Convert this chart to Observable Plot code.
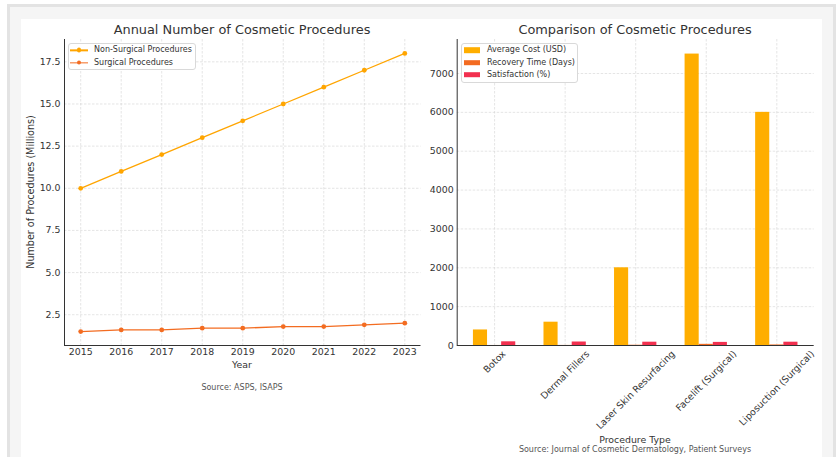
<!DOCTYPE html>
<html><head><meta charset="utf-8">
<script src="https://cdn.jsdelivr.net/npm/d3@7"></script>
<script src="https://cdn.jsdelivr.net/npm/@observablehq/plot@0.6"></script>
<style>
body{margin:0;background:#fff;font-family:"DejaVu Sans",sans-serif;}
#page{position:relative;width:836px;height:457px;overflow:hidden;}
#frame{position:absolute;left:7px;top:4px;width:823px;height:470px;border:3px solid #e3e3e3;border-bottom:none;background:#f5f5f5;}
#inner{position:absolute;left:21px;top:19px;width:801px;height:450px;background:#fff;}
.t{position:absolute;transform:translate(-50%,-50%);white-space:nowrap;color:#333;line-height:1;}
.plot{position:absolute;}
.legend{position:absolute;border:1px solid #d9d9d9;border-radius:3px;background:#fff;box-sizing:border-box;}
.li{position:absolute;font-size:8px;color:#333;line-height:1;white-space:nowrap;transform:translateY(-50%);}
.sw{position:absolute;transform:translateY(-50%);}
</style></head>
<body><div id="page"><div id="frame"></div><div id="inner"></div></div>
<script>
// ---- data ----
const years = [2015, 2016, 2017, 2018, 2019, 2020, 2021, 2022, 2023];
const nonSurgical = [10, 11, 12, 13, 14, 15, 16, 17, 18];
const surgical = [1.5, 1.6, 1.6, 1.7, 1.7, 1.8, 1.8, 1.9, 2.0];
const lineSeries = ["Non-Surgical Procedures", "Surgical Procedures"];
const lineColors = ["#ffa500", "#f36c21"];
const yTicksLeft = [2.5, 5, 7.5, 10, 12.5, 15, 17.5];

const procedures = ["Botox", "Dermal Fillers", "Laser Skin Resurfacing", "Facelift (Surgical)", "Liposuction (Surgical)"];
const avgCost = [400, 600, 2000, 7500, 6000];
const recoveryDays = [1, 2, 7, 30, 14];
const satisfaction = [95, 90, 85, 80, 85];
const barSeries = ["Average Cost (USD)", "Recovery Time (Days)", "Satisfaction (%)"];
const barColors = ["#ffae00", "#f36b21", "#f2304f"];
const yTicksRight = [0, 1000, 2000, 3000, 4000, 5000, 6000, 7000];

const page = document.getElementById("page");
const FONT = "DejaVu Sans";
const TICK = 9.4;
const gridStyle = {stroke: "#d4d4d4", strokeOpacity: 1, strokeDasharray: "2.5,1.5", strokeWidth: 0.6};

function addText(txt, x, y, size, color, rot) {
  const d = document.createElement("div");
  d.className = "t";
  d.textContent = txt;
  d.style.left = x + "px"; d.style.top = y + "px";
  d.style.fontSize = size + "px";
  if (color) d.style.color = color;
  if (rot) d.style.transform = "translate(-50%,-50%) rotate(" + rot + "deg)";
  page.appendChild(d);
}

// ---- left chart ----
const lineRows = years.flatMap((yr, i) => [
  {year: yr, value: nonSurgical[i], series: lineSeries[0]},
  {year: yr, value: surgical[i], series: lineSeries[1]}
]);
const xPad = (years[years.length - 1] - years[0]) * 0.05;
const xDomL = [years[0] - xPad, years[years.length - 1] + xPad];
const [lo, hi] = d3.extent(nonSurgical.concat(surgical));
const yPadL = (hi - lo) * 0.05;
const yDomL = [lo - yPadL, hi + yPadL];

const left = Plot.plot({
  width: 409, height: 430,
  marginLeft: 43, marginRight: 9.5, marginTop: 20, marginBottom: 104,
  style: {fontFamily: FONT, fontSize: TICK + "px", color: "#333", background: "transparent", overflow: "visible"},
  x: {domain: xDomL},
  y: {domain: yDomL},
  color: {domain: lineSeries, range: lineColors},
  marks: [
    Plot.gridX(years, gridStyle),
    Plot.gridY(yTicksLeft, gridStyle),
    Plot.axisX(years, {tickFormat: d => String(d), tickSize: 0, tickPadding: 3, label: null}),
    Plot.axisY(yTicksLeft, {tickFormat: d => d.toFixed(1), tickSize: 0, tickPadding: 4, label: null}),
    Plot.ruleX([xDomL[0]], {stroke: "#333", strokeWidth: 1}),
    Plot.ruleY([yDomL[0]], {stroke: "#333", strokeWidth: 1}),
    Plot.line(lineRows, {x: "year", y: "value", z: "series", stroke: "series", strokeWidth: 1.3}),
    Plot.dot(lineRows, {x: "year", y: "value", fill: "series", r: 2.4})
  ]
});
left.classList.add("plot");
left.style.left = "21px"; left.style.top = "19px";
page.appendChild(left);

// ---- right chart ----
const barW = 0.2;
const barRows = barSeries.flatMap((s, j) => procedures.map((p, i) => ({
  series: s,
  x1: i + (j - 1) * barW - barW / 2,
  x2: i + (j - 1) * barW + barW / 2,
  value: [avgCost, recoveryDays, satisfaction][j][i]
})));
const bx = [-1.5 * barW, procedures.length - 1 + 1.5 * barW];
const bpad = (bx[1] - bx[0]) * 0.05;
const xDomR = [bx[0] - bpad, bx[1] + bpad];
const yMaxR = d3.max(barRows, d => d.value) * 1.05;

const ctx = document.createElement("canvas").getContext("2d");
ctx.font = TICK + "px '" + FONT + "'";
const labelMarks = procedures.map((p, i) => {
  const L = ctx.measureText(p).width;
  const H = (L + TICK) * Math.SQRT1_2;
  return Plot.text([p], {x: () => i, frameAnchor: "bottom", rotate: -45, textAnchor: "middle", lineAnchor: "middle", dy: 3.5 + H / 2, fill: "#333", fontSize: TICK});
});

const right = Plot.plot({
  width: 401, height: 430,
  marginLeft: 35.7, marginRight: 8.3, marginTop: 20, marginBottom: 104,
  style: {fontFamily: FONT, fontSize: TICK + "px", color: "#333", background: "transparent", overflow: "visible"},
  x: {domain: xDomR},
  y: {domain: [0, yMaxR]},
  color: {domain: barSeries, range: barColors},
  marks: [
    Plot.gridX(procedures.map((p, i) => i), gridStyle),
    Plot.gridY(yTicksRight.slice(1), gridStyle),
    Plot.axisY(yTicksRight, {tickSize: 0, tickPadding: 3.5, tickFormat: d => String(d), label: null}),
    Plot.axisX([], {label: null}),
    Plot.rectY(barRows, {x1: "x1", x2: "x2", y: "value", fill: "series"}),
    Plot.ruleX([xDomR[0]], {stroke: "#333", strokeWidth: 1}),
    Plot.ruleY([0], {stroke: "#333", strokeWidth: 1}),
    ...labelMarks
  ]
});
right.classList.add("plot");
right.style.left = "421px"; right.style.top = "19px";
page.appendChild(right);

// ---- titles & labels ----
addText("Annual Number of Cosmetic Procedures", 242, 30, 12.9);
addText("Comparison of Cosmetic Procedures", 635, 30, 12.9);
addText("Number of Procedures (Millions)", 31, 192, 9.6, null, -90);
addText("Year", 242, 365, 9.4);
addText("Source: ASPS, ISAPS", 242, 388, 8, "#555");
addText("Procedure Type", 635, 440, 9.4);
addText("Source: Journal of Cosmetic Dermatology, Patient Surveys", 635, 449.5, 8, "#555");

// ---- legends ----
function legend(x, y, w, h, items, colors, kind) {
  const box = document.createElement("div");
  box.className = "legend";
  box.style.left = x + "px"; box.style.top = y + "px";
  box.style.width = w + "px"; box.style.height = h + "px";
  page.appendChild(box);
  items.forEach((name, i) => {
    const cy = y + 7.3 + i * 12.3;
    if (kind === "line") {
      const ln = document.createElement("div");
      ln.className = "sw";
      ln.style.cssText += `left:${x + 2}px;top:${cy}px;width:18px;height:1.3px;background:${colors[i]};`;
      page.appendChild(ln);
      const dt = document.createElement("div");
      dt.className = "sw";
      dt.style.cssText += `left:${x + 8.6}px;top:${cy}px;width:4.8px;height:4.8px;border-radius:50%;background:${colors[i]};`;
      page.appendChild(dt);
    } else {
      const sw = document.createElement("div");
      sw.className = "sw";
      sw.style.cssText += `left:${x + 3.3}px;top:${cy}px;width:15.7px;height:5.6px;background:${colors[i]};`;
      page.appendChild(sw);
    }
    const t = document.createElement("div");
    t.className = "li";
    t.textContent = name;
    t.style.left = (x + 26) + "px"; t.style.top = cy + "px";
    page.appendChild(t);
  });
}
legend(68, 43, 128, 27, lineSeries, lineColors, "line");
legend(461, 43, 117, 40, barSeries, barColors, "bar");
</script>
</body></html>
